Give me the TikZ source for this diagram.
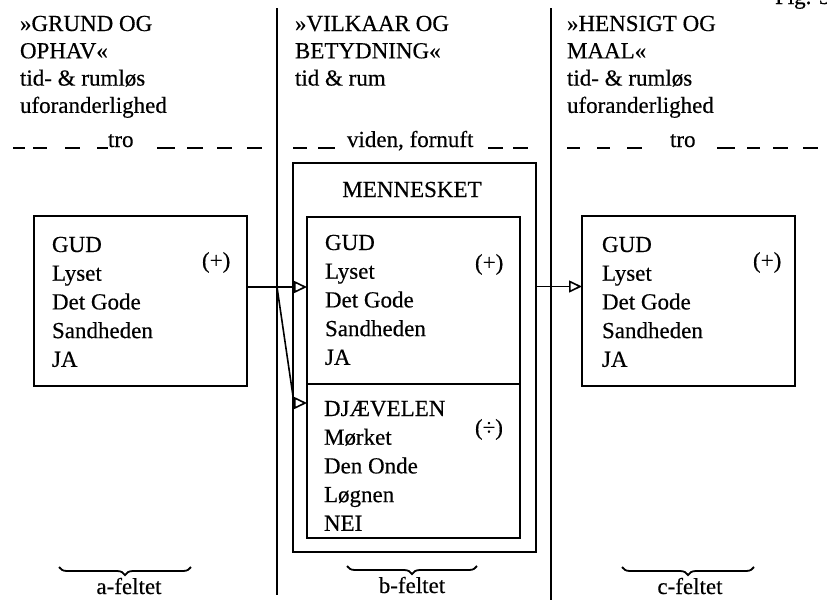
\documentclass[tikz,border=0pt]{standalone}
\usepackage{fontspec}
\setmainfont{Liberation Serif}[FakeBold=0.4]
\usetikzlibrary{arrows.meta,decorations.pathreplacing}
% left-aligned column of lines whose first baseline is the node's base
\newcommand\colstack[1]{\begin{tabular}[t]{@{}l@{}}#1\end{tabular}}

\begin{document}
\begin{tikzpicture}[x=1pt,y=-1pt,
  every node/.style={inner sep=0pt, outer sep=0pt},
  panel/.style={draw, line width=1.7pt},
  txt/.style={anchor=base west, font=\fontsize{23}{28.7}\selectfont},
  head/.style={anchor=base west, font=\fontsize{23}{27.3}\selectfont},
  centred/.style={anchor=base, font=\fontsize{23}{28}\selectfont},
  arr/.style={line width=1.6pt, -{Triangle[open,length=13pt,width=12pt]}},
  rule/.style={line width=1.6pt},
  dashseg/.style={line width=1.6pt},
  feltbrace/.style={line width=1.8pt, decorate, decoration={brace, mirror, amplitude=8pt}}
]
\useasboundingbox (0,0) rectangle (827,600);
\clip (0,0) rectangle (827,600);

% column dividers
\coordinate (divLtop) at (277,8);
\coordinate (divLbot) at (277,595);
\coordinate (divRtop) at (551,8);
\coordinate (divRbot) at (551,600);
\draw[rule] (divLtop) -- (divLbot);
\draw[rule] (divRtop) -- (divRbot);

\node[anchor=base west, font=\fontsize{23}{28}\selectfont] (fig) at (775,4) {Fig. 3};

% column headings
\node[head] (hA) at (20,31) {\colstack{»GRUND OG\\OPHAV«\\tid- \& rumløs\\uforanderlighed}};
\node[head] (hB) at (295,31) {\colstack{»VILKAAR OG\\BETYDNING«\\tid \& rum}};
\node[head] (hC) at (567,31) {\colstack{»HENSIGT OG\\MAAL«\\tid- \& rumløs\\uforanderlighed}};

% dashed row with its labels
\foreach \a/\b in {13/25,33/47,65/80,97/108,157/175,187/203,217/232,247/262,
                   293/307,318/335,488/503,513/528,
                   567/580,597/610,627/642,717/735,747/760,773/788,803/818}
  \draw[dashseg] (\a,148) -- (\b,148);
\node[anchor=base west, font=\fontsize{23}{28}\selectfont] (troA) at (108,147) {tro};
\node[anchor=base west, font=\fontsize{23}{28}\selectfont] (viden) at (347,147) {viden, fornuft};
\node[anchor=base west, font=\fontsize{23}{28}\selectfont] (troC) at (670,147) {tro};

% boxes
\node[panel, minimum width=213pt, minimum height=170pt] (lbox) at (140.5,301) {};
\node[panel, minimum width=243pt, minimum height=389pt] (obox) at (414.5,357.5) {};
\node[panel, minimum width=213pt, minimum height=167pt] (gudb) at (413.5,300.5) {};
\node[panel, minimum width=213pt, minimum height=154pt] (djb) at (413.5,461) {};
\node[panel, minimum width=213pt, minimum height=170pt] (rbox) at (688.5,301) {};

% box contents
\node[txt] (tA) at (52,252) {\colstack{GUD\\Lyset\\Det Gode\\Sandheden\\JA}};
\node[txt] (pA) at (202,268) {(+)};
\node[centred] (menn) at (412,197) {MENNESKET};
\node[txt] (tB) at (325,250) {\colstack{GUD\\Lyset\\Det Gode\\Sandheden\\JA}};
\node[txt] (pB) at (475,270) {(+)};
\node[txt] (tD) at (324,416) {\colstack{DJÆVELEN\\Mørket\\Den Onde\\Løgnen\\NEI}};
\node[txt] (mD) at (475,435) {(÷)};
\node[txt] (tC) at (602,252) {\colstack{GUD\\Lyset\\Det Gode\\Sandheden\\JA}};
\node[txt] (pC) at (753,268) {(+)};

% connectors
\draw[arr] ([yshift=14pt]lbox.east) coordinate (s1) -- (s1 -| gudb.west);
\draw[arr] (s1 -| divLtop) -- ([xshift=-13pt,yshift=58pt]djb.west) -- ([yshift=58pt]djb.west);
\draw[arr] ([yshift=71pt]obox.east) coordinate (s2) -- (s2 -| rbox.west);

% field braces
\draw[feltbrace] (59,567) -- (191,567);
\draw[feltbrace] (347,566) -- (477,566);
\draw[feltbrace] (622,567) -- (754,567);
\node[centred] (fa) at (129,594) {a-feltet};
\node[centred] (fb) at (412,593) {b-feltet};
\node[centred] (fc) at (690,594) {c-feltet};
\end{tikzpicture}
\end{document}
